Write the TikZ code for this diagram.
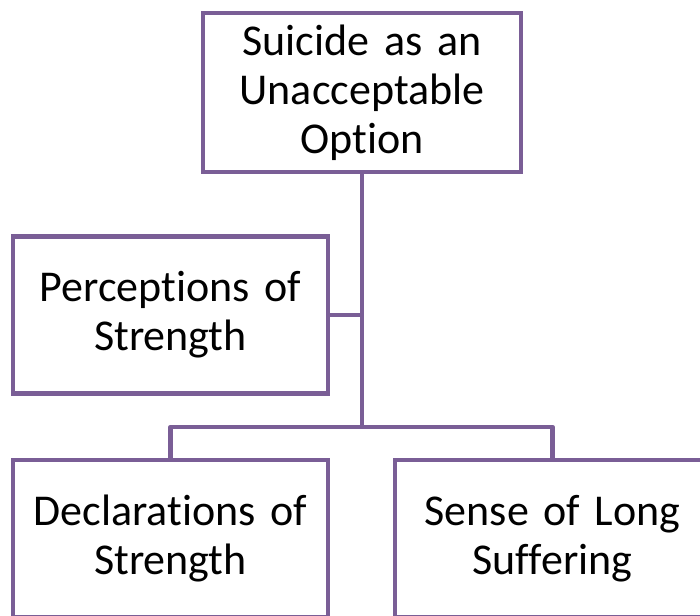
\documentclass[tikz,border=0pt]{standalone}
\usepackage{fontspec}
\setmainfont{Carlito}[Ligatures=NoCommon]
\definecolor{boxpurple}{RGB}{122,94,150}
\begin{document}
\begin{tikzpicture}[x=1pt,y=-1pt,
  box/.style={draw=boxpurple, line width=4.5pt, fill=white, minimum width=315pt,
    minimum height=157pt, align=center, inner sep=0pt, text width=305pt,
    font=\fontsize{44}{49}\selectfont},
  link/.style={draw=boxpurple, line width=4.5pt, line join=round}]
\useasboundingbox (0,0) rectangle (700,615);
\clip (0,0) rectangle (700,615);
\node[box, minimum width=318pt, minimum height=159pt] (top) at (362,92.5) {Suicide as an\\Unacceptable\\Option};
\node[box] (perc) at (170.5,315) {Perceptions of\\Strength};
\node[box] (decl) at (170.5,538.5) {Declarations of\\Strength};
\node[box] (sense) at (552.5,538.5) {Sense of Long\\Suffering};
\coordinate (bar) at (362,427);
\draw[link] (top.south) -- (bar);
\draw[link] (perc.east) -- (perc.east -| top.south);
\draw[link] (decl.north) |- (bar) -| (sense.north);
\end{tikzpicture}
\end{document}
